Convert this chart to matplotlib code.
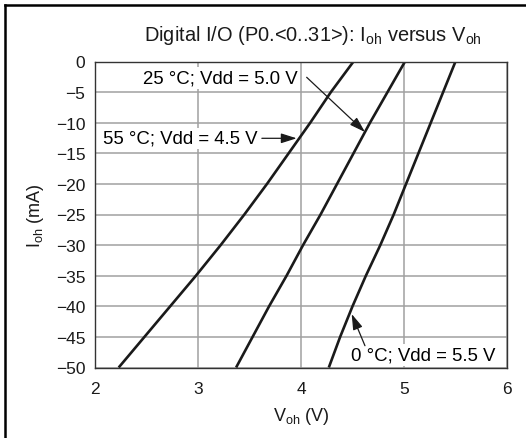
import matplotlib
matplotlib.use("Agg")
import matplotlib.pyplot as plt
from matplotlib.lines import Line2D

plt.rcParams['font.family'] = ['Liberation Sans', 'DejaVu Sans']
plt.rcParams['mathtext.fontset'] = 'custom'
plt.rcParams['mathtext.rm'] = 'Liberation Sans'
plt.rcParams['mathtext.it'] = 'Liberation Sans'

# Data
ioh = [0, -5, -10, -15, -20, -25, -30, -35, -40, -45, -50]
voh_55c = [4.51, 4.29, 4.09, 3.88, 3.67, 3.45, 3.22, 2.98, 2.73, 2.48, 2.23]
voh_25c = [5.01, 4.84, 4.67, 4.51, 4.35, 4.19, 4.02, 3.86, 3.69, 3.53, 3.37]
voh_0c = [5.50, 5.38, 5.26, 5.14, 5.02, 4.90, 4.77, 4.63, 4.50, 4.38, 4.27]

x_ticks = [2, 3, 4, 5, 6]
y_ticks = [0, -5, -10, -15, -20, -25, -30, -35, -40, -45, -50]

labels = ["55 °C; Vdd = 4.5 V", "25 °C; Vdd = 5.0 V", "0 °C; Vdd = 5.5 V"]

W, H = 526, 439
fig = plt.figure(figsize=(W / 100, H / 100), dpi=100)
ax = fig.add_axes([95 / W, 1 - 368.5 / H, (507 - 95) / W, (368.5 - 62.5) / H])

for v in (voh_55c, voh_25c, voh_0c):
    ax.plot(v, ioh, color='#1a1a1a', lw=1.9, zorder=4, solid_capstyle='butt',
            solid_joinstyle='round')

ax.set_xlim(2, 6)
ax.set_ylim(-50, 0)
ax.set_xticks(x_ticks)
ax.set_yticks(y_ticks)
ax.set_xticklabels([str(t) for t in x_ticks])
ax.set_yticklabels([str(t).replace('-', '\u2212') for t in y_ticks])
ax.tick_params(length=0, labelsize=12.5, colors='#1a1a1a')
ax.tick_params(axis='y', pad=7)
ax.tick_params(axis='x', pad=10)
ax.grid(True, color='#a0a0a0', lw=1.1, zorder=1)
ax.set_axisbelow(True)
for s in ax.spines.values():
    s.set_color('#333333')
    s.set_linewidth(1.0)
    s.set_zorder(5)

ax.set_xlabel(r'$\mathrm{V_{oh}}$ (V)', fontsize=13, labelpad=6, color='#1a1a1a')
ax.set_ylabel(r'$\mathrm{I_{oh}}$ (mA)', fontsize=13, labelpad=7, color='#1a1a1a')

fig.text(143.5 / W, 1 - 40.7 / H, r'Digital I/O (P0.<0..31>): $\mathrm{I_{oh}}$ versus $\mathrm{V_{oh}}$',
         ha='left', va='baseline', fontsize=14.4, color='#1a1a1a')

bbox = dict(facecolor='white', edgecolor='none', pad=1.5)
ax.text(2.466, -2.7, labels[1], ha='left', va='center', fontsize=13.4, bbox=bbox, zorder=3)
ax.text(2.075, -12.55, labels[0], ha='left', va='center', fontsize=13.4, bbox=bbox, zorder=3)
ax.text(4.49, -47.96, labels[2], ha='left', va='center', fontsize=13.4, bbox=bbox, zorder=3)

aprops = dict(arrowstyle='-|>,head_length=0.95,head_width=0.3', color='#1a1a1a', lw=0.9,
              mutation_scale=10, shrinkA=0, shrinkB=0)
ax.annotate('', xy=(4.621, -11.52), xytext=(4.055, -2.58), arrowprops=aprops, zorder=6)
ax.annotate('', xy=(3.958, -12.55), xytext=(3.62, -12.55), arrowprops=aprops, zorder=6)
ax.annotate('', xy=(4.492, -41.26), xytext=(4.621, -46.44), arrowprops=aprops, zorder=6)

# frame lines (top and left) of the figure
fig.add_artist(Line2D([5 / W, 1.0], [1 - 5.5 / H, 1 - 5.5 / H], color='black', lw=1.8,
                      transform=fig.transFigure))
fig.add_artist(Line2D([5 / W, 5 / W], [0.0, 1 - 5.5 / H], color='black', lw=1.8,
                      transform=fig.transFigure))

fig.savefig('out.png', dpi=100)
